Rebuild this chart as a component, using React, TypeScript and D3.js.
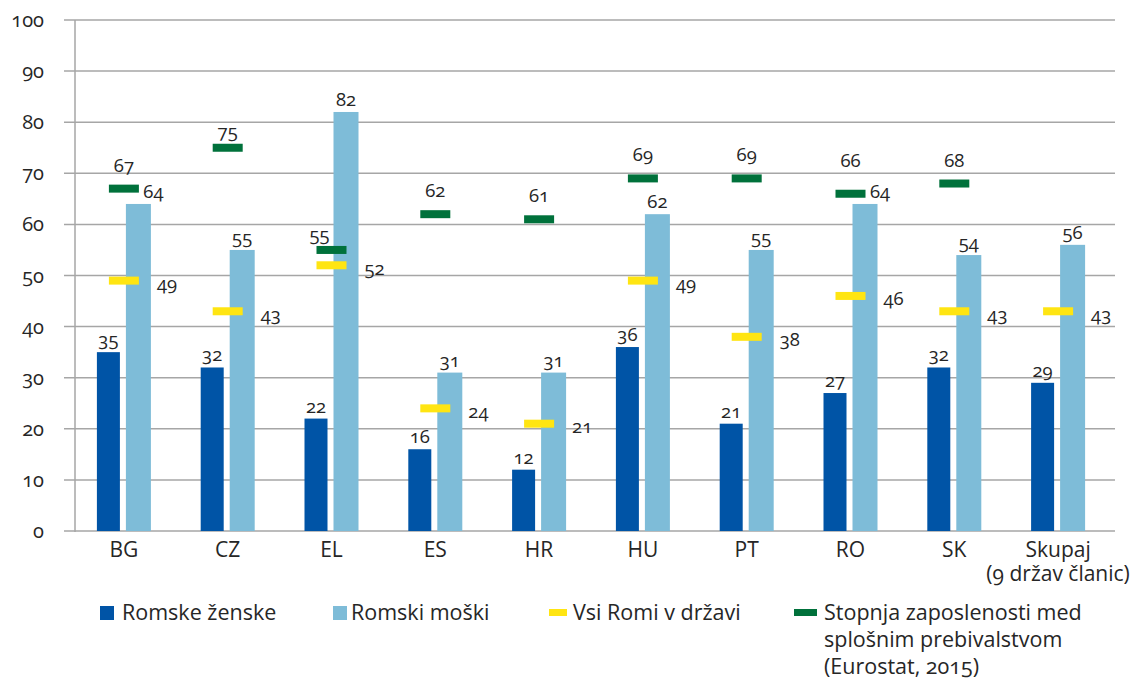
import React from "react";
import * as d3 from "d3";

const categories = ["BG", "CZ", "EL", "ES", "HR", "HU", "PT", "RO", "SK", "Skupaj\n(9 držav članic)"];
const romaWomen = [35, 32, 22, 16, 12, 36, 21, 27, 32, 29];
const romaMen = [64, 55, 82, 31, 31, 62, 55, 64, 54, 56];
const allRoma = [49, 43, 52, 24, 21, 49, 38, 46, 43, 43];
const generalPop = [67, 75, 55, 62, 61, 69, 69, 66, 68, null];
const yTicks = [0, 10, 20, 30, 40, 50, 60, 70, 80, 90, 100];
const legendLabels = ["Romske ženske", "Romski moški", "Vsi Romi v državi", "Stopnja zaposlenosti med\nsplošnim prebivalstvom\n(Eurostat, 2015)"];

const C_DARK = "#0054a6";
const C_LIGHT = "#7ebcd8";
const C_YEL = "#ffe512";
const C_GREEN = "#00713b";
const C_TEXT = "#262626";
const FONT = "'Open Sans', sans-serif";

// label nudges (styling only): men-bar labels moved right where a marker overlaps
const menLabelShift: Record<string, number> = { BG: 15, RO: 15 };
const greenLabelNudge: Record<string, [number, number]> = { CZ: [0, 7], EL: [-12, 8], RO: [0, -10] };

export default function App() {
  const W = 1133, H = 679;
  const y = d3.scaleLinear().domain([0, 100]).range([531, 20]);
  const x = d3.scaleBand<string>().domain(categories).range([72, 1110]);
  const cx = (c: string) => (x(c) as number) + x.bandwidth() / 2;
  const numStyle: React.CSSProperties = { fontVariantNumeric: "oldstyle-nums", fontFeatureSettings: "'onum'" };
  const LBL = 18.5;

  return (
    <svg width={W} height={H} style={{ position: "absolute", left: 0, top: 0, background: "#fff" }} fontFamily={FONT}>
      {yTicks.map((t) => (
        <g key={t}>
          <line x1={64} x2={1115} y1={y(t)} y2={y(t)} stroke="#a6a6a6" strokeWidth={1.5} />
          <text x={44} y={y(t)} dy="0.35em" textAnchor="end" fontSize={20} fill={C_TEXT} style={numStyle}>{t}</text>
        </g>
      ))}
      <line x1={75} x2={75} y1={y(100)} y2={y(0) + 1} stroke="#a6a6a6" strokeWidth={1.5} />

      {categories.map((c, i) => {
        const m = cx(c);
        const wv = romaWomen[i], mv = romaMen[i], av = allRoma[i], gv = generalPop[i];
        const key = c.split("\n")[0];
        const gn = greenLabelNudge[key] || [0, 0];
        return (
          <g key={c}>
            <rect x={m - 27} width={23} y={y(wv)} height={y(0) - y(wv)} fill={C_DARK} />
            <rect x={m + 2} width={25} y={y(mv)} height={y(0) - y(mv)} fill={C_LIGHT} />
            <rect x={m - 15} width={30} y={y(av) - 4} height={8} fill={C_YEL} />
            {gv != null && <rect x={m - 15} width={30} y={y(gv) - 4} height={8} fill={C_GREEN} />}
            <text x={m - 15.5} y={y(wv) - 6} textAnchor="middle" fontSize={LBL} fill={C_TEXT} style={numStyle}>{wv}</text>
            <text x={m + 14.5 + (menLabelShift[key] || 0)} y={y(mv) - 6} textAnchor="middle" fontSize={LBL} fill={C_TEXT} style={numStyle}>{mv}</text>
            <text x={m + 33} y={y(av) + 3} dy="0.35em" textAnchor="start" fontSize={LBL} fill={C_TEXT} style={numStyle}>{av}</text>
            {gv != null && (
              <text x={m + gn[0]} y={y(gv) - 17 + gn[1]} textAnchor="middle" fontSize={LBL} fill={C_TEXT} style={numStyle}>{gv}</text>
            )}
            {c.split("\n").map((line, k) => (
              <text key={k} x={m} y={557 + k * 24} textAnchor="middle" fontSize={21} fill={C_TEXT} style={numStyle}>{line}</text>
            ))}
          </g>
        );
      })}

      <g>
        <rect x={100} y={606} width={14} height={14} fill={C_DARK} />
        <text x={122} y={620} fontSize={21.5} fill={C_TEXT}>{legendLabels[0]}</text>
        <rect x={333} y={606} width={14} height={14} fill={C_LIGHT} />
        <text x={351} y={620} fontSize={21.5} fill={C_TEXT}>{legendLabels[1]}</text>
        <rect x={549} y={609} width={18} height={7} fill={C_YEL} />
        <text x={573} y={620} fontSize={21.5} fill={C_TEXT}>{legendLabels[2]}</text>
        <rect x={794} y={609} width={23} height={7} fill={C_GREEN} />
        {legendLabels[3].split("\n").map((line, k) => (
          <text key={k} x={824} y={620 + k * 27} fontSize={21.5} fill={C_TEXT} style={numStyle}>{line}</text>
        ))}
      </g>
    </svg>
  );
}
